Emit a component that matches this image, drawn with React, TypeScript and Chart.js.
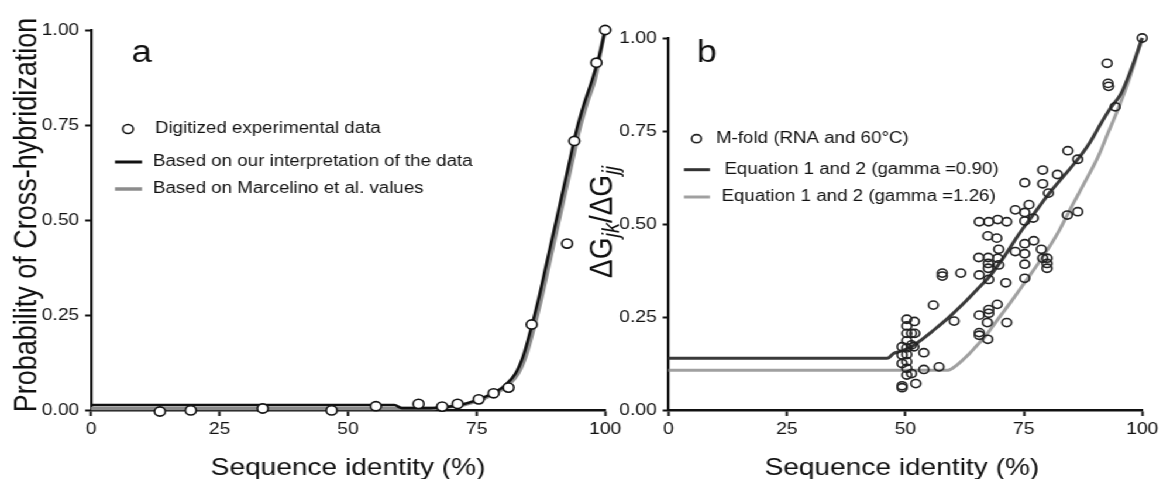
import React, { useEffect, useRef } from 'react';
import { Chart, registerables } from 'chart.js';

Chart.register(...registerables);

// The reference figure is horizontally stretched; we draw at 994px and stretch to 1163px.
const STRETCH = 1163 / 994;
const FONT = '"Liberation Sans", Arial, Helvetica, sans-serif';
const TEXT = '#111111';

// ---------- shared axis ticks ----------
const xTickValues = [0, 25, 50, 75, 100];
const xTickLabels = ['0', '25', '50', '75', '100'];
const yTickValues = [0, 0.25, 0.5, 0.75, 1];
const yTickLabels = ['0.00', '0.25', '0.50', '0.75', '1.00'];
const xTitle = 'Sequence identity (%)';

// ---------- panel a ----------
const aYTitle = 'Probability of Cross-hybridization';
const aLegend = ['Digitized experimental data', 'Based on our interpretation of the data', 'Based on Marcelino et al. values'];
const aExpIdentity = [13.4, 19.4, 33.4, 46.8, 55.4, 63.7, 68.3, 71.3, 75.4, 78.3, 81.2, 85.7, 92.6, 94.0, 98.3, 100];
const aExpProb = [-0.004, -0.001, 0.004, -0.001, 0.010, 0.016, 0.009, 0.016, 0.028, 0.044, 0.059, 0.225, 0.438, 0.708, 0.914, 1.0];
const aOursIdentity = [0, 59, 60.5, 66, 69, 72, 75, 78, 80.5, 82.5, 84, 85.5, 87, 88.5, 90, 91.5, 93, 94.5, 96, 97.5, 99, 100];
const aOursProb = [0.013, 0.013, 0.005, 0.005, 0.008, 0.014, 0.026, 0.043, 0.065, 0.095, 0.14, 0.21, 0.29, 0.38, 0.47, 0.56, 0.65, 0.74, 0.81, 0.87, 0.94, 1.0];
const aMarcIdentity = [0, 66, 69.5, 72.5, 75.5, 78.5, 81, 83, 84.5, 86, 87.5, 89, 90.5, 92, 93.5, 95, 96.5, 98, 99.5, 100];
const aMarcProb = [0.004, 0.004, 0.008, 0.014, 0.026, 0.043, 0.065, 0.095, 0.14, 0.21, 0.29, 0.38, 0.47, 0.56, 0.65, 0.74, 0.81, 0.87, 0.97, 1.0];

// ---------- panel b ----------
const bLegend = ['M-fold (RNA and 60°C)', 'Equation 1 and 2 (gamma =0.90)', 'Equation 1 and 2 (gamma =1.26)'];
const bMfoldIdentity = [
  100, 92.6, 92.8, 92.9, 94.3, 84.3, 86.4, 79.0, 82.1, 75.2, 79.0, 80.2, 76.1, 73.2, 75.2, 77.0, 75.2, 84.2, 86.4,
  65.6, 67.6, 69.5, 71.4, 67.4, 69.3, 77.1, 69.7, 73.2, 75.2, 75.2, 78.7, 65.5, 67.5, 69.5, 67.5, 69.7, 67.5,
  79.0, 79.9, 79.9, 79.9, 75.2, 65.6, 67.6, 71.2, 75.2, 57.8, 57.8, 61.7,
  55.9, 60.3, 65.6, 67.6, 67.6, 69.4, 67.3, 71.4, 65.6, 65.6, 67.4, 57.1, 53.9, 53.9, 52.2, 49.3, 49.3,
  50.3, 50.3, 50.3, 50.3, 50.3, 50.3, 50.3, 50.3, 50.3, 49.3, 49.3, 49.3, 51.3, 51.3, 51.3, 51.9, 52.0, 51.8,
];
const bMfoldRatio = [
  1.0, 0.932, 0.878, 0.870, 0.815, 0.697, 0.674, 0.645, 0.633, 0.611, 0.608, 0.583, 0.552, 0.538, 0.531, 0.516, 0.508, 0.524, 0.533,
  0.506, 0.506, 0.512, 0.506, 0.468, 0.462, 0.455, 0.432, 0.426, 0.447, 0.420, 0.432, 0.410, 0.410, 0.408, 0.394, 0.390, 0.381,
  0.408, 0.408, 0.394, 0.381, 0.392, 0.363, 0.351, 0.342, 0.354, 0.368, 0.360, 0.368,
  0.282, 0.239, 0.255, 0.270, 0.260, 0.284, 0.235, 0.235, 0.208, 0.201, 0.190, 0.116, 0.109, 0.154, 0.071, 0.065, 0.060,
  0.244, 0.226, 0.206, 0.186, 0.167, 0.149, 0.130, 0.112, 0.094, 0.170, 0.148, 0.125, 0.098, 0.175, 0.206, 0.238, 0.206, 0.170,
];
const bG090Identity = [0, 46.2, 47.5, 49, 51, 53, 56, 59, 62.8, 65, 67.7, 71, 74, 77, 80.4, 83.5, 86.4, 89, 91.5, 93.5, 95.5, 97.5, 100];
const bG090Ratio = [0.139, 0.139, 0.152, 0.158, 0.168, 0.185, 0.215, 0.247, 0.293, 0.322, 0.358, 0.415, 0.473, 0.525, 0.583, 0.63, 0.674, 0.72, 0.775, 0.815, 0.85, 0.91, 1.0];
const bG126Identity = [0, 59, 61, 63, 65, 67, 69, 72.6, 76, 79.5, 82.5, 85.1, 88, 90.7, 92.8, 94.8, 97, 99, 100];
const bG126Ratio = [0.107, 0.107, 0.122, 0.145, 0.172, 0.2, 0.235, 0.296, 0.357, 0.421, 0.483, 0.547, 0.615, 0.681, 0.745, 0.806, 0.88, 0.959, 1.0];

const zip = (xs: number[], ys: number[]) => xs.map((x, i) => ({ x, y: ys[i] }));

function scales(yAxisWidth: number) {
  return {
    x: {
      type: 'linear',
      min: 0,
      max: 100,
      afterBuildTicks: (s: any) => { s.ticks = xTickValues.map((v) => ({ value: v })); },
      ticks: {
        callback: (v: any) => xTickLabels[xTickValues.indexOf(Number(v))] ?? '',
        font: { family: FONT, size: 16.5 },
        color: TEXT,
        padding: 4,
        maxRotation: 0,
        autoSkip: false,
      },
      grid: { display: true, drawOnChartArea: false, drawTicks: true, tickLength: 6, tickWidth: 2, tickColor: '#111' },
      border: { display: true, color: '#111', width: 2.4 },
      afterFit: (s: any) => { s.height = 69; },
    },
    y: {
      type: 'linear',
      min: 0,
      max: 1,
      afterBuildTicks: (s: any) => { s.ticks = yTickValues.map((v) => ({ value: v })); },
      ticks: {
        callback: (v: any) => yTickLabels[yTickValues.indexOf(Number(v))] ?? '',
        font: { family: FONT, size: 16.5 },
        color: TEXT,
        padding: 5,
        autoSkip: false,
      },
      grid: { display: true, drawOnChartArea: false, drawTicks: true, tickLength: 5, tickWidth: 2, tickColor: '#111' },
      border: { display: true, color: '#111', width: 2.2 },
      afterFit: (s: any) => { s.width = yAxisWidth; },
    },
  };
}

function lineDs(data: any[], color: string, width: number) {
  return {
    type: 'line',
    data,
    borderColor: color,
    borderWidth: width,
    pointRadius: 0,
    fill: false,
    cubicInterpolationMode: 'monotone',
    clip: false,
  };
}

function drawXTitle(ctx: CanvasRenderingContext2D, cx: number) {
  ctx.font = `24px ${FONT}`;
  ctx.textAlign = 'center';
  ctx.textBaseline = 'alphabetic';
  ctx.fillText(xTitle, cx, 474.5);
}

const panelAPlugin = {
  id: 'panelAText',
  afterDraw(chart: any) {
    const ctx: CanvasRenderingContext2D = chart.ctx;
    const ca = chart.chartArea;
    ctx.save();
    ctx.fillStyle = TEXT;
    ctx.font = `31px ${FONT}`;
    ctx.textAlign = 'left';
    ctx.textBaseline = 'alphabetic';
    ctx.fillText('a', 112.5, 62);
    drawXTitle(ctx, (ca.left + ca.right) / 2);
    ctx.save();
    ctx.translate(31, 215);
    ctx.rotate(-Math.PI / 2);
    ctx.font = `27px ${FONT}`;
    ctx.textAlign = 'center';
    ctx.textBaseline = 'alphabetic';
    ctx.fillText(aYTitle, 0, 0);
    ctx.restore();
    // legend
    ctx.beginPath();
    ctx.arc(109.4, 129, 4.5, 0, Math.PI * 2);
    ctx.fillStyle = '#fff';
    ctx.fill();
    ctx.lineWidth = 1.5;
    ctx.strokeStyle = '#111';
    ctx.stroke();
    ctx.lineWidth = 3;
    ctx.strokeStyle = '#111';
    ctx.beginPath(); ctx.moveTo(98.3, 162); ctx.lineTo(121.4, 162); ctx.stroke();
    ctx.strokeStyle = '#8c8c8c';
    ctx.lineWidth = 3.5;
    ctx.beginPath(); ctx.moveTo(98.3, 189); ctx.lineTo(121.4, 189); ctx.stroke();
    ctx.fillStyle = TEXT;
    ctx.font = `16px ${FONT}`;
    ctx.textAlign = 'left';
    ctx.textBaseline = 'middle';
    ctx.fillText(aLegend[0], 132.5, 129);
    ctx.fillText(aLegend[1], 130.8, 162);
    ctx.fillText(aLegend[2], 130.8, 189);
    ctx.restore();
  },
};

const panelBPlugin = {
  id: 'panelBText',
  afterDraw(chart: any) {
    const ctx: CanvasRenderingContext2D = chart.ctx;
    const ca = chart.chartArea;
    ctx.save();
    ctx.fillStyle = TEXT;
    ctx.font = `31px ${FONT}`;
    ctx.textAlign = 'left';
    ctx.textBaseline = 'alphabetic';
    ctx.fillText('b', 115.5, 62);
    drawXTitle(ctx, (ca.left + ca.right) / 2 - 3);
    // y title with subscripts
    const main = `28px ${FONT}`;
    const sub = `italic 20px ${FONT}`;
    const parts = [
      { t: 'ΔG', f: main, dy: 0 },
      { t: 'jk', f: sub, dy: 6 },
      { t: '/ΔG', f: main, dy: 0 },
      { t: 'jj', f: sub, dy: 6 },
    ];
    let total = 0;
    const widths = parts.map((p) => { ctx.font = p.f; const w = ctx.measureText(p.t).width; total += w; return w; });
    ctx.save();
    ctx.translate(42.8, 222);
    ctx.rotate(-Math.PI / 2);
    ctx.textAlign = 'left';
    ctx.textBaseline = 'alphabetic';
    let x = -total / 2;
    parts.forEach((p, i) => { ctx.font = p.f; ctx.fillText(p.t, x, p.dy); x += widths[i]; });
    ctx.restore();
    // legend
    ctx.beginPath();
    ctx.arc(115.3, 138.7, 4.1, 0, Math.PI * 2);
    ctx.lineWidth = 1.6;
    ctx.strokeStyle = '#222';
    ctx.stroke();
    ctx.lineWidth = 3;
    ctx.strokeStyle = '#333';
    ctx.beginPath(); ctx.moveTo(104.6, 169.7); ctx.lineTo(126.8, 169.7); ctx.stroke();
    ctx.strokeStyle = '#a0a0a0';
    ctx.beginPath(); ctx.moveTo(104.6, 197); ctx.lineTo(126.8, 197); ctx.stroke();
    ctx.font = `16px ${FONT}`;
    ctx.textAlign = 'left';
    ctx.textBaseline = 'middle';
    ctx.fillText(bLegend[0], 132, 138.7);
    ctx.fillText(bLegend[1], 139.2, 169.7);
    ctx.fillText(bLegend[2], 136.7, 197);
    ctx.restore();
  },
};

function configA(): any {
  return {
    type: 'line',
    data: {
      datasets: [
        {
          type: 'line',
          data: zip(aExpIdentity, aExpProb),
          showLine: false,
          pointRadius: 4.6,
          pointBorderWidth: 1.6,
          pointBackgroundColor: '#ffffff',
          pointBorderColor: '#111',
          clip: false,
        },
        lineDs(zip(aOursIdentity, aOursProb), '#111111', 2.6),
        lineDs(zip(aMarcIdentity, aMarcProb), '#8c8c8c', 3.6),
      ],
    },
    options: {
      animation: false,
      responsive: false,
      devicePixelRatio: 1,
      layout: { padding: { top: 30, left: 0, right: 535 - 519.7, bottom: 0 } },
      scales: scales(77.8),
      plugins: { legend: { display: false }, tooltip: { enabled: false } },
      events: [],
    },
    plugins: [panelAPlugin],
  };
}

function configB(): any {
  return {
    type: 'line',
    data: {
      datasets: [
        {
          type: 'line',
          data: zip(bMfoldIdentity, bMfoldRatio),
          showLine: false,
          pointRadius: 4.1,
          pointBorderWidth: 1.6,
          pointBackgroundColor: 'rgba(255,255,255,0)',
          pointBorderColor: '#222',
          clip: false,
        },
        lineDs(zip(bG090Identity, bG090Ratio), '#3a3a3a', 3),
        lineDs(zip(bG126Identity, bG126Ratio), '#a0a0a0', 3),
      ],
    },
    options: {
      animation: false,
      responsive: false,
      devicePixelRatio: 1,
      layout: { padding: { top: 38, left: 0, right: 514 - 501.2, bottom: 0 } },
      scales: scales(91.4),
      plugins: { legend: { display: false }, tooltip: { enabled: false } },
      events: [],
    },
    plugins: [panelBPlugin],
  };
}

function Panel({ left, width, make }: { left: number; width: number; make: () => any }) {
  const ref = useRef<HTMLCanvasElement>(null);
  useEffect(() => {
    if (!ref.current) return;
    const chart = new Chart(ref.current, make());
    return () => chart.destroy();
  }, []);
  return (
    <canvas
      ref={ref}
      width={width}
      height={479}
      style={{ position: 'absolute', left, top: 0, width, height: 479, display: 'block' }}
    />
  );
}

export default function App() {
  return (
    <div
      style={{
        position: 'absolute',
        left: 0,
        top: 0,
        width: 994,
        height: 479,
        background: '#fff',
        transform: `scaleX(${STRETCH})`,
        transformOrigin: '0 0',
        overflow: 'hidden',
      }}
    >
      <Panel left={0} width={535} make={configA} />
      <Panel left={480} width={514} make={configB} />
    </div>
  );
}
